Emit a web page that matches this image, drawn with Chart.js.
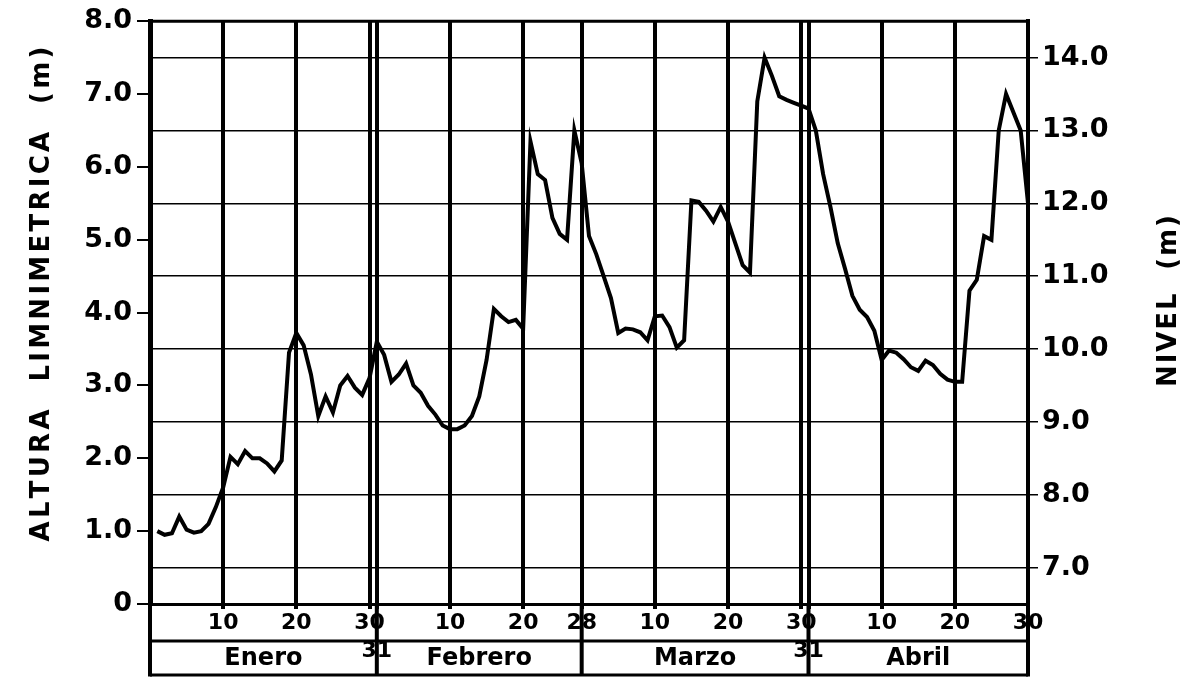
<!DOCTYPE html>
<html lang="es">
<head>
<meta charset="utf-8" />
<title>Altura limnimetrica</title>
<script src="https://cdn.jsdelivr.net/npm/chart.js@4"></script>
<style>
  html, body { margin: 0; padding: 0; background: #fff; }
  #wrap { width: 1184px; height: 681px; position: relative; }
</style>
</head>
<body>
<div id="wrap"><canvas id="hidro"></canvas></div>
<script>
// daily gauge height (m)
const enero = [1.0, 0.95, 0.97, 1.2, 1.02, 0.98, 1.0, 1.1, 1.33, 1.6,
  2.02, 1.92, 2.1, 2.0, 2.0, 1.93, 1.82, 1.97, 3.45, 3.72,
  3.55, 3.15, 2.58, 2.85, 2.63, 3.0, 3.13, 2.97, 2.87, 3.1, 3.6];
const febrero = [3.42, 3.05, 3.15, 3.3, 3.0, 2.9, 2.72, 2.6, 2.45,
  2.4, 2.4, 2.45, 2.58, 2.85, 3.35, 4.05, 3.95, 3.87, 3.9,
  3.78, 6.35, 5.9, 5.82, 5.3, 5.08, 5.0, 6.5, 6.05];
const marzo = [5.05, 4.8, 4.5, 4.2, 3.72, 3.78, 3.77, 3.73, 3.62, 3.95,
  3.96, 3.8, 3.52, 3.62, 5.54, 5.52, 5.4, 5.25, 5.45, 5.25,
  4.95, 4.65, 4.55, 6.9, 7.5, 7.25, 6.97, 6.92, 6.88, 6.84, 6.8];
const abril = [6.5, 5.9, 5.45, 4.95, 4.6, 4.23, 4.04, 3.94, 3.75, 3.35,
  3.48, 3.45, 3.36, 3.25, 3.2, 3.34, 3.28, 3.16, 3.08, 3.05,
  3.05, 4.3, 4.45, 5.05, 5.0, 6.5, 7.0, 6.75, 6.5, 5.5];

const meses = ["Enero", "Febrero", "Marzo", "Abril"];
const diasTicks = [10, 20, 30, 31, 41, 51, 59, 69, 79, 89, 90, 100, 110, 120];
const diasLabels = ["10", "20", "30", "31", "10", "20", "28", "10", "20", "30", "31", "10", "20", "30"];
const alturaTicks = [0, 1, 2, 3, 4, 5, 6, 7, 8];
const nivelTicks = [7, 8, 9, 10, 11, 12, 13, 14];
const cotaCero = 6.5; // NIVEL = ALTURA + cotaCero

const serie = [enero, febrero, marzo, abril];
const puntos = [];
let dia = 0;
serie.forEach((mes) => mes.forEach((v) => { dia++; puntos.push({ x: dia, y: v }); }));

const FUENTE = '"DejaVu Sans", sans-serif';

function textoVertical(ctx, txt, cx, cy, largo, font) {
  ctx.save();
  ctx.font = font;
  ctx.translate(cx, cy);
  ctx.rotate(-Math.PI / 2);
  const chars = [...txt];
  const anchos = chars.map((c) => ctx.measureText(c).width);
  const total = anchos.reduce((s, w) => s + w, 0);
  const gap = (largo - total) / (chars.length - 1);
  let px = -largo / 2;
  ctx.textAlign = "left";
  ctx.textBaseline = "middle";
  chars.forEach((c, i) => { ctx.fillText(c, px, 0); px += anchos[i] + gap; });
  ctx.restore();
}

// frame, month table and rotated titles
const marco = {
  id: "marco",
  afterDraw(chart) {
    const { ctx, chartArea: a, scales: { x } } = chart;
    const filaDias = a.bottom + 37;
    const filaMes = a.bottom + 71;
    ctx.save();
    ctx.strokeStyle = "#000";
    ctx.fillStyle = "#000";
    ctx.lineWidth = 3;
    ctx.beginPath();
    ctx.moveTo(a.left - 2, a.top); ctx.lineTo(a.right + 2, a.top);
    ctx.moveTo(a.left, filaDias); ctx.lineTo(a.right, filaDias);
    ctx.moveTo(a.left, filaMes); ctx.lineTo(a.right, filaMes);
    ctx.stroke();

    ctx.lineWidth = 4;
    ctx.beginPath();
    ctx.moveTo(a.left, a.bottom); ctx.lineTo(a.left, filaMes + 1.5);
    ctx.moveTo(a.right, a.bottom); ctx.lineTo(a.right, filaMes + 1.5);
    let acum = 0;
    serie.forEach((mes, i) => {
      acum += mes.length;
      if (i < serie.length - 1) {
        const px = x.getPixelForValue(acum);
        ctx.moveTo(px, a.bottom); ctx.lineTo(px, filaMes);
      }
    });
    ctx.stroke();

    ctx.font = "bold 24px " + FUENTE;
    ctx.textAlign = "center";
    ctx.textBaseline = "middle";
    let ini = 0;
    serie.forEach((mes, i) => {
      const fin = ini + mes.length;
      const cx = (x.getPixelForValue(ini) + x.getPixelForValue(fin)) / 2;
      ctx.fillText(meses[i], cx, (filaDias + filaMes) / 2 + 1);
      ini = fin;
    });

    textoVertical(ctx, "ALTURA  LIMNIMETRICA  (m)", 42, 294, 495, "bold 26px " + FUENTE);
    textoVertical(ctx, "NIVEL  (m)", chart.width - 15, 301, 172, "bold 26px " + FUENTE);
    ctx.restore();
  },
};

new Chart(document.getElementById("hidro"), {
  type: "line",
  data: {
    datasets: [
      {
        label: "Altura limnimetrica",
        data: puntos,
        borderColor: "#000",
        borderWidth: 4,
        pointRadius: 0,
        tension: 0,
        xAxisID: "x",
        yAxisID: "y",
      },
    ],
  },
  options: {
    responsive: true,
    maintainAspectRatio: false,
    animation: false,
    layout: { padding: { top: 16 } },
    plugins: { legend: { display: false }, tooltip: { enabled: false } },
    scales: {
      x: {
        type: "linear",
        position: "bottom",
        min: 0,
        max: 120,
        afterBuildTicks: (s) => { s.ticks = diasTicks.map((v) => ({ value: v })); },
        afterFit: (s) => { s.height = 77; },
        grid: { color: "#000", lineWidth: 4, tickLength: 5 },
        border: { display: true, color: "#000", width: 3 },
        ticks: {
          autoSkip: false,
          maxRotation: 0,
          padding: 1,
          color: "#000",
          font: { family: FUENTE, weight: "bold", size: 22, lineHeight: 1.25 },
          callback: (v) => {
            const i = diasTicks.indexOf(v);
            const t = diasLabels[i];
            return t === "31" ? ["", t] : t;
          },
        },
      },
      y: {
        position: "left",
        min: 0,
        max: 8,
        afterBuildTicks: (s) => { s.ticks = alturaTicks.map((v) => ({ value: v })); },
        afterFit: (s) => { s.width = 150; },
        grid: { drawOnChartArea: false, color: "#000", lineWidth: 2, tickLength: 13 },
        border: { display: true, color: "#000", width: 5 },
        ticks: {
          padding: 5,
          color: "#000",
          font: { family: FUENTE, weight: "bold", size: 27 },
          callback: (v) => (v === 0 ? "0" : v.toFixed(1)),
        },
      },
      y1: {
        position: "right",
        min: alturaTicks[0] + cotaCero,
        max: alturaTicks[alturaTicks.length - 1] + cotaCero,
        afterBuildTicks: (s) => { s.ticks = nivelTicks.map((v) => ({ value: v })); },
        afterFit: (s) => { s.width = 156; },
        grid: { drawOnChartArea: true, color: "#000", lineWidth: 1.5, tickLength: 10 },
        border: { display: true, color: "#000", width: 4 },
        ticks: {
          padding: 4,
          color: "#000",
          font: { family: FUENTE, weight: "bold", size: 27 },
          callback: (v) => v.toFixed(1),
        },
      },
    },
  },
  plugins: [marco],
});
</script>
</body>
</html>
